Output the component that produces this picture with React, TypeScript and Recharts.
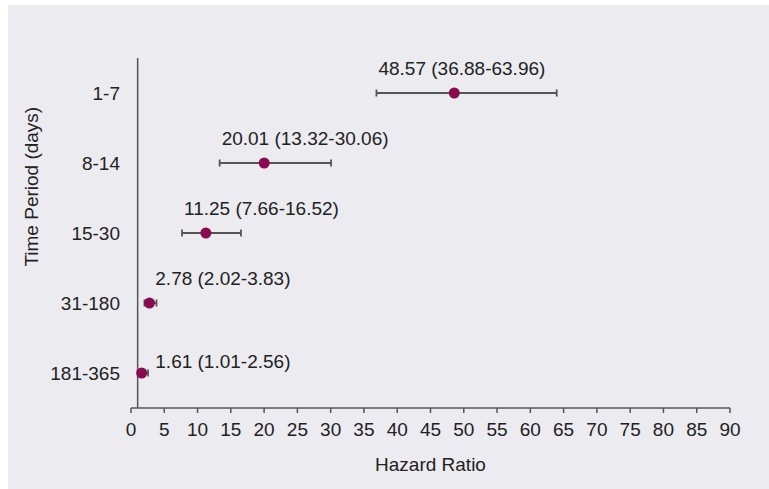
import { ScatterChart, Scatter, XAxis, YAxis, ErrorBar, ReferenceLine, Label } from 'recharts'

const periods = ['1-7', '8-14', '15-30', '31-180', '181-365']
const hazardRatios = [48.57, 20.01, 11.25, 2.78, 1.61]
const lowerCI = [36.88, 13.32, 7.66, 2.02, 1.01]
const upperCI = [63.96, 30.06, 16.52, 3.83, 2.56]
const xTicks = [0, 5, 10, 15, 20, 25, 30, 35, 40, 45, 50, 55, 60, 65, 70, 75, 80, 85, 90]

const AXIS = '#555'
const DOT = '#8a0a50'
const TEXT = '#222'
const FONT = '"Liberation Sans", Arial, sans-serif'

const rows = periods.map((period, i) => ({
  period,
  hr: hazardRatios[i],
  err: [hazardRatios[i] - lowerCI[i], upperCI[i] - hazardRatios[i]],
  // labels start at the lower CI, but never hug the HR=1 line
  labelX: Math.max(lowerCI[i], 3.35),
  text: `${hazardRatios[i].toFixed(2)} (${lowerCI[i].toFixed(2)}-${upperCI[i].toFixed(2)})`,
}))

function Dot({ cx, cy }: any) {
  return <circle cx={cx} cy={cy} r={5.5} fill={DOT} />
}

function RowLabel({ cx, cy, payload, index }: any) {
  const last = index === rows.length - 1
  const center = cy + (last ? -12 : -25)
  return (
    <text x={cx + 2} y={center + 6.8} fontSize={19} fill={TEXT} textAnchor="start">
      {payload.text}
    </text>
  )
}

function YTitle({ viewBox }: any) {
  const x = (viewBox?.x ?? 0) + 30.3
  const y = (viewBox?.y ?? 53) + 128.7
  return (
    <text x={0} y={0} transform={`translate(${x},${y}) rotate(-90)`} textAnchor="middle" fontSize={19} fill={TEXT}>
      Time Period (days)
    </text>
  )
}

export default function App() {
  return (
    <div style={{ position: 'absolute', left: 8, top: 5, width: 761, height: 484, background: '#ecebf0', fontFamily: FONT }}>
      <ScatterChart width={761} height={484} margin={{ top: 53, right: 39, bottom: 51, left: 0 }}>
        <XAxis
          type="number"
          dataKey="hr"
          domain={[0, 90]}
          ticks={xTicks}
          interval={0}
          height={30}
          stroke={AXIS}
          strokeWidth={1.5}
          tickSize={5}
          tickMargin={10}
          tick={{ fill: TEXT, fontSize: 19 }}
        >
          <Label value="Hazard Ratio" position="bottom" offset={20} fill={TEXT} fontSize={19} />
        </XAxis>
        <XAxis xAxisId="lbl" type="number" dataKey="labelX" domain={[0, 90]} hide />
        <YAxis
          type="category"
          dataKey="period"
          reversed
          width={123}
          axisLine={false}
          tickLine={false}
          tickMargin={5}
          tick={{ fill: TEXT, fontSize: 19 }}
        >
          <Label content={<YTitle />} />
        </YAxis>
        <ReferenceLine x={1} stroke={AXIS} strokeWidth={1.5} />
        <Scatter data={rows} shape={<Dot />} isAnimationActive={false}>
          <ErrorBar dataKey="err" direction="x" width={3.5} stroke={AXIS} strokeWidth={1.8} isAnimationActive={false} />
        </Scatter>
        <Scatter data={rows} xAxisId="lbl" shape={<RowLabel />} isAnimationActive={false} />
      </ScatterChart>
    </div>
  )
}
